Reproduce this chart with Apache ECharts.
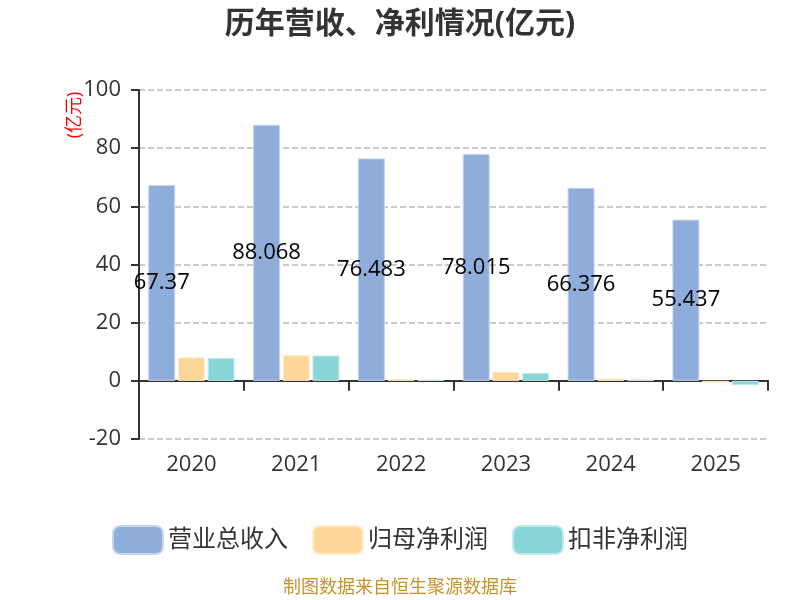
<!DOCTYPE html>
<html>
<head>
<meta charset="utf-8">
<script src="https://cdn.jsdelivr.net/npm/echarts@6/dist/echarts.min.js"></script>
<style>
  html, body { margin: 0; padding: 0; background: #fff; }
  #chart { width: 800px; height: 600px; }
</style>
</head>
<body>
<div id="chart"></div>
<script>
// 年份
const years = ['2020', '2021', '2022', '2023', '2024', '2025'];
// 营业总收入
const revenue = [67.37, 88.068, 76.483, 78.015, 66.376, 55.437];
// 归母净利润
const netProfit = [8.1, 8.8, 0.6, 3.1, 0.8, -0.6];
// 扣非净利润
const deductedProfit = [7.9, 8.7, 0.35, 2.75, 0.4, -1.5];
const seriesNames = ['营业总收入', '归母净利润', '扣非净利润'];
const colorList = ['#8EADDB', '#FED79A', '#88D5D8'];

const chart = echarts.init(document.getElementById('chart'));
const fontFamily = '"Open Sans", "Noto Sans CJK SC", sans-serif';

const options = {
  color: colorList,
  textStyle: { fontFamily },
  title: {
    text: '历年营收、净利情况(亿元)',
    left: 'center',
    top: 4,
    textStyle: { fontSize: 30, fontWeight: 'bold', color: '#333', fontFamily },
  },
  legend: {
    data: seriesNames,
    top: 520,
    itemWidth: 50,
    itemHeight: 28,
    itemGap: 24,
    textStyle: { fontSize: 24, color: '#333', fontFamily },
  },
  grid: {
    left: 139,
    right: 32,
    top: 90,
    bottom: 161,
  },
  graphic: [
    {
      type: 'text',
      x: 75,
      y: 115,
      rotation: Math.PI / 2,
      style: {
        text: '(亿元)',
        fill: '#ff0000',
        fontSize: 18,
        fontFamily,
        textAlign: 'center',
        textVerticalAlign: 'middle',
      },
    },
    {
      type: 'text',
      left: 'center',
      top: 579,
      style: {
        text: '制图数据来自恒生聚源数据库',
        fill: '#C8922A',
        fontSize: 18,
        fontFamily,
      },
    },
  ],
  xAxis: [
    {
      type: 'category',
      data: years,
      axisLine: { onZero: true, lineStyle: { color: '#333', width: 2 } },
      axisTick: { show: true, length: 10, lineStyle: { color: '#333', width: 2 } },
      axisLabel: { show: false },
    },
    {
      type: 'category',
      data: years,
      position: 'bottom',
      axisLine: { show: false, onZero: false },
      axisTick: { show: false },
      axisLabel: { fontSize: 22, color: '#333', margin: 15, fontFamily },
    },
  ],
  yAxis: {
    type: 'value',
    min: -20,
    max: 100,
    interval: 20,
    axisLine: { show: true, lineStyle: { color: '#333', width: 2 } },
    axisTick: { show: true, length: 8, lineStyle: { color: '#333', width: 2 } },
    axisLabel: { fontSize: 22, color: '#333', margin: 18, fontFamily },
    splitLine: { lineStyle: { type: 'dashed', color: '#bbb', width: 1.5 } },
  },
  series: [
    {
      name: seriesNames[0],
      type: 'bar',
      barWidth: 27,
      barGap: '10%',
      data: revenue,
      itemStyle: { borderColor: '#c8d6ee', borderWidth: 1 },
      label: {
        show: true,
        position: 'inside',
        color: '#000',
        fontSize: 22,
        fontFamily,
      },
    },
    {
      name: seriesNames[1],
      type: 'bar',
      barWidth: 27,
      barGap: '10%',
      data: netProfit,
      itemStyle: { borderColor: '#ffecc8', borderWidth: 1 },
    },
    {
      name: seriesNames[2],
      type: 'bar',
      barWidth: 27,
      barGap: '10%',
      data: deductedProfit,
      itemStyle: { borderColor: '#c0ebec', borderWidth: 1 },
    },
  ],
};
chart.setOption(options);
</script>
</body>
</html>
